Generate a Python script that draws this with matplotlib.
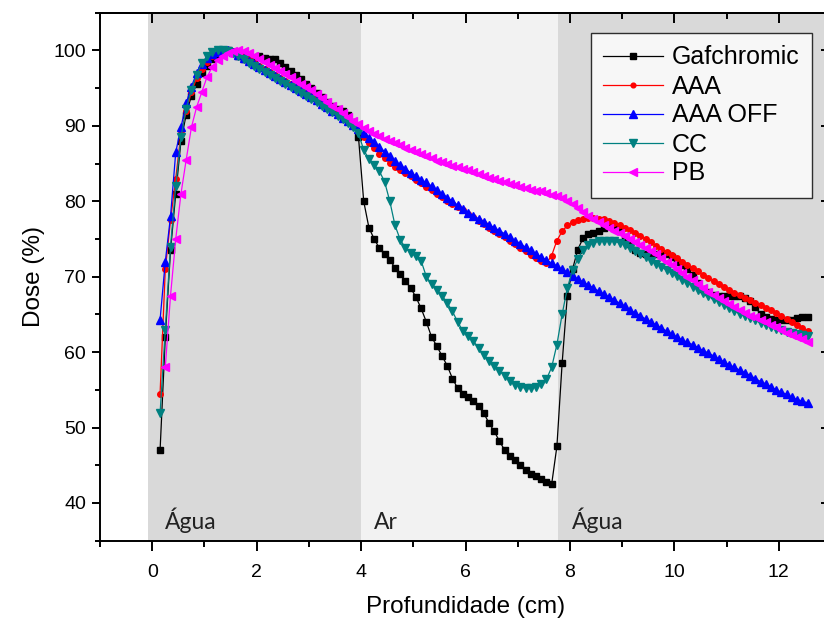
import matplotlib

matplotlib.use('Agg')
import matplotlib.pyplot as plt
import numpy as np
from matplotlib.ticker import MultipleLocator

plt.rcParams['font.family'] = ['Liberation Sans', 'DejaVu Sans']

# depth grid of the profiles (cm)
depth = np.round(np.arange(0.15, 12.56, 0.1), 2)

gafchromic = [
    47.0, 62.0, 73.5, 81.0, 88.0, 91.5, 94.0, 95.5, 97.0, 98.0,
    98.8, 99.3, 99.7, 100.0, 99.8, 99.2, 98.8, 98.7, 99.0, 99.2,
    99.0, 98.9, 98.9, 98.4, 97.8, 97.3, 96.8, 96.2, 95.6, 95.0,
    94.4, 93.8, 93.2, 92.6, 92.2, 92.0, 91.5, 90.5, 88.5, 80.0,
    76.5, 75.0, 73.8, 73.0, 72.2, 71.2, 70.3, 69.4, 68.5, 67.3,
    65.8, 64.0, 62.0, 60.8, 59.5, 58.2, 56.5, 55.2, 54.4, 54.0,
    53.5, 52.8, 51.9, 50.6, 49.5, 48.2, 47.0, 46.2, 45.7, 45.1,
    44.4, 43.9, 43.6, 43.2, 42.8, 42.5, 47.5, 58.5, 67.5, 71.0,
    73.6, 75.1, 75.7, 75.8, 76.0, 76.4, 76.8, 76.6, 76.1, 75.2,
    74.3, 73.5, 73.1, 73.0, 73.0, 73.0, 73.1, 73.0, 72.6, 72.0,
    71.5, 71.0, 70.2, 69.2, 68.4, 68.0, 67.6, 67.5, 67.5, 67.5,
    67.5, 67.4, 67.2, 66.8, 66.0, 65.0, 64.6, 64.4, 64.3, 64.2,
    64.2, 64.3, 64.5, 64.6, 64.6,
]

aaa = [
    54.5, 71.0, 77.5, 83.0, 89.0, 92.0, 94.5, 96.3, 97.6, 98.5,
    99.2, 99.6, 99.9, 100.0, 99.9, 99.6, 99.2, 98.8, 98.4, 98.0,
    97.6, 97.2, 96.8, 96.4, 96.0, 95.6, 95.2, 94.8, 94.4, 94.0,
    93.6, 93.1, 92.7, 92.2, 91.7, 91.2, 90.7, 90.1, 89.4, 88.5,
    87.7, 87.0, 86.3, 85.7, 85.1, 84.6, 84.2, 83.7, 83.3, 82.8,
    82.4, 81.9, 81.5, 81.0, 80.6, 80.1, 79.7, 79.2, 78.8, 78.3,
    77.9, 77.4, 77.0, 76.5, 76.1, 75.6, 75.2, 74.7, 74.3, 73.8,
    73.4, 72.9, 72.5, 72.1, 71.8, 72.8, 74.8, 76.0, 76.8, 77.2,
    77.5, 77.7, 77.8, 77.8, 77.7, 77.6, 77.4, 77.1, 76.8, 76.5,
    76.2, 75.8, 75.4, 75.0, 74.6, 74.1, 73.7, 73.3, 72.9, 72.5,
    72.0, 71.6, 71.1, 70.7, 70.2, 69.8, 69.4, 69.0, 68.6, 68.3,
    67.9, 67.6, 67.2, 66.9, 66.5, 66.2, 65.9, 65.6, 65.2, 64.8,
    64.4, 64.0, 63.6, 63.2, 62.8,
]

aaa_off = [
    64.3, 72.0, 78.0, 86.5, 89.8, 93.0, 95.2, 97.0, 98.2, 99.0,
    99.5, 99.8, 100.0, 100.0, 99.8, 99.4, 99.0, 98.6, 98.2, 97.8,
    97.4, 97.0, 96.6, 96.2, 95.8, 95.4, 95.0, 94.6, 94.2, 93.8,
    93.4, 92.9, 92.5, 92.0, 91.6, 91.1, 90.6, 90.1, 89.6, 89.0,
    88.4, 87.8, 87.2, 86.6, 86.0, 85.3, 84.8, 84.3, 83.8, 83.3,
    82.8, 82.5, 82.0, 81.5, 81.0, 80.5, 80.0, 79.5, 79.0, 78.5,
    78.1, 77.7, 77.3, 76.9, 76.5, 76.1, 75.7, 75.2, 74.8, 74.4,
    73.9, 73.5, 73.0, 72.6, 72.2, 71.8, 71.4, 71.0, 70.6, 70.1,
    69.7, 69.3, 68.9, 68.5, 68.1, 67.7, 67.3, 66.9, 66.5, 66.1,
    65.6, 65.2, 64.8, 64.4, 64.0, 63.6, 63.2, 62.8, 62.4, 62.0,
    61.6, 61.3, 61.0, 60.6, 60.2, 59.9, 59.5, 59.1, 58.7, 58.3,
    58.0, 57.6, 57.3, 56.9, 56.5, 56.1, 55.8, 55.4, 55.0, 54.7,
    54.4, 54.0, 53.7, 53.5, 53.3,
]

cc = [
    51.9, 63.0, 74.0, 82.0, 88.5, 92.3, 94.8, 96.8, 98.3, 99.2,
    99.8, 100.0, 100.0, 99.9, 99.6, 99.2, 98.8, 98.4, 98.0, 97.6,
    97.2, 96.8, 96.3, 95.9, 95.5, 95.1, 94.7, 94.3, 93.9, 93.5,
    93.1, 92.7, 92.2, 91.8, 91.3, 90.9, 90.4, 89.8, 89.0, 86.8,
    85.6, 84.8, 84.0, 82.6, 80.0, 76.8, 74.9, 73.8, 73.2, 72.7,
    72.1, 70.0, 69.0, 68.3, 67.5, 66.5, 65.4, 64.0, 62.8, 62.2,
    61.5, 60.5, 59.6, 58.8, 58.2, 57.5, 56.9, 56.2, 55.7, 55.4,
    55.2, 55.2, 55.4, 55.8, 56.4, 58.0, 61.0, 65.0, 68.5, 70.9,
    72.3, 73.6, 74.2, 74.5, 74.7, 74.8, 74.8, 74.7, 74.5, 74.2,
    73.8, 73.4, 73.0, 72.6, 72.1, 71.7, 71.3, 70.9, 70.5, 70.1,
    69.6, 69.2, 68.7, 68.3, 67.9, 67.5, 67.1, 66.7, 66.3, 65.9,
    65.5, 65.1, 64.8, 64.5, 64.2, 63.9, 63.6, 63.3, 63.1, 62.9,
    62.7, 62.5, 62.4, 62.3, 62.2,
]

pb = [
    np.nan, 58.0, 67.5, 75.0, 81.0, 85.5, 89.8, 92.5, 94.5, 96.5,
    97.8, 98.7, 99.2, 99.6, 99.9, 100.0, 99.9, 99.6, 99.3, 98.9,
    98.5, 98.1, 97.7, 97.3, 96.9, 96.5, 96.0, 95.6, 95.1, 94.7,
    94.2, 93.7, 93.2, 92.7, 92.2, 91.7, 91.2, 90.7, 90.2, 89.7,
    89.3, 88.9, 88.6, 88.3, 88.0, 87.7, 87.4, 87.1, 86.8, 86.5,
    86.3, 86.0, 85.7, 85.4, 85.2, 84.9, 84.7, 84.5, 84.3, 84.1,
    83.9, 83.6, 83.4, 83.1, 82.9, 82.7, 82.5, 82.3, 82.1, 81.9,
    81.7, 81.5, 81.3, 81.3, 81.1, 80.9, 80.7, 80.4, 80.0, 79.6,
    79.1, 78.6, 78.1, 77.7, 77.3, 76.8, 76.5, 76.1, 75.8, 75.4,
    75.0, 74.6, 74.2, 73.8, 73.4, 73.0, 72.5, 72.0, 71.5, 71.0,
    70.5, 70.0, 69.5, 69.0, 68.5, 68.0, 67.6, 67.2, 66.8, 66.4,
    66.0, 65.6, 65.2, 64.8, 64.6, 64.3, 64.0, 63.6, 63.3, 63.0,
    62.6, 62.3, 62.0, 61.7, 61.4,
]

# material regions: (start, end, label)
regions = [(-0.08, 4.0, 'Água'), (4.0, 7.78, 'Ar'), (7.78, 13.0, 'Água')]
region_colors = ['#d9d9d9', '#f2f2f2', '#d9d9d9']

series = [
    ('Gafchromic', gafchromic, '#000000', 's', 4.6),
    ('AAA', aaa, '#ff0000', 'o', 4.0),
    ('AAA OFF', aaa_off, '#0000ff', '^', 6.2),
    ('CC', cc, '#008080', 'v', 6.2),
    ('PB', pb, '#ff00ff', '<', 6.2),
]

fig = plt.figure(figsize=(8.24, 6.21), dpi=100)
ax = fig.add_axes([0.1214, 0.1293, 1.0085 - 0.1214, 0.9795 - 0.1293])

for (x0, x1, name), col in zip(regions, region_colors):
    ax.axvspan(x0, x1, color=col, lw=0, zorder=0)
    ax.text(x0 + 0.25 if x0 > 0 else 0.25, 36.6, name, family=['Lato', 'DejaVu Sans'],
            fontsize=16.5, color='#222222', ha='left', va='baseline', zorder=1)

for name, vals, col, mk, ms in series:
    ax.plot(depth, vals, color=col, lw=0.9, marker=mk, ms=ms, mec=col, mfc=col,
            label=name, zorder=3)

ax.set_xlim(-1, 13)
ax.set_ylim(35, 105)
ax.xaxis.set_major_locator(MultipleLocator(2))
ax.xaxis.set_minor_locator(MultipleLocator(1))
ax.yaxis.set_minor_locator(MultipleLocator(5))
ax.set_yticks(np.arange(40, 101, 10))

for s in ax.spines.values():
    s.set_linewidth(1.4)

ax.tick_params(axis='both', which='major', labelsize=14, width=1.4)
ax.tick_params(axis='x', which='major', direction='out', length=7.5, pad=9)
ax.tick_params(axis='x', which='minor', direction='out', length=4, width=1.4)
ax.tick_params(axis='y', which='major', direction='out', length=6, pad=4)
ax.tick_params(axis='y', which='minor', direction='out', length=3.5, width=1.4)

# top axis: inward ticks, right axis: inward major ticks only
top = ax.secondary_xaxis('top')
top.xaxis.set_major_locator(MultipleLocator(2))
top.xaxis.set_minor_locator(MultipleLocator(1))
top.tick_params(which='major', direction='in', length=7.5, width=1.4, labeltop=False)
top.tick_params(which='minor', direction='in', length=4.5, width=1.4)
top.spines['top'].set_linewidth(1.4)
right = ax.secondary_yaxis('right')
right.set_yticks(np.arange(40, 101, 10))
right.tick_params(direction='in', length=7, width=1.4, labelright=False)
right.spines['right'].set_linewidth(1.4)

ax.set_xlabel('Profundidade (cm)', fontsize=17.5, labelpad=11)
ax.set_ylabel('Dose (%)', fontsize=17.5, labelpad=6)

leg = ax.legend(loc='upper right', bbox_to_anchor=(812 / 824, 1 - 33 / 621),
                bbox_transform=fig.transFigure, fontsize=18, frameon=True,
                fancybox=False, borderaxespad=0, labelspacing=0.2,
                handlelength=2.4, handletextpad=0.35, borderpad=0.5, markerscale=0.85)
leg.get_frame().set_edgecolor('black')
leg.get_frame().set_linewidth(1.0)
leg.set_zorder(5)

fig.savefig('out.png', dpi=100)
